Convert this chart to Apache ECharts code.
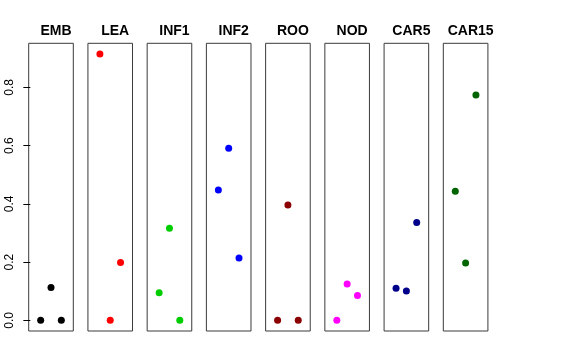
<!DOCTYPE html>
<html>
<head>
<meta charset="utf-8">
<script src="https://cdn.jsdelivr.net/npm/echarts@6/dist/echarts.min.js"></script>
<style>html,body{margin:0;padding:0;background:#fff;}#c{width:576px;height:360px;}</style>
</head>
<body>
<div id="c"></div>
<script>
var panels = ["EMB", "LEA", "INF1", "INF2", "ROO", "NOD", "CAR5", "CAR15"];
var colors = ["#000000", "#FF0000", "#00CD00", "#0000FF", "#8B0000", "#FF00FF", "#00008B", "#006400"];
var xPos = [1, 2, 3];
var EMB = [0, 0.113, 0];
var LEA = [0.915, 0, 0.199];
var INF1 = [0.095, 0.316, 0];
var INF2 = [0.448, 0.591, 0.214];
var ROO = [0, 0.396, 0];
var NOD = [0, 0.125, 0.085];
var CAR5 = [0.110, 0.101, 0.336];
var CAR15 = [0.443, 0.197, 0.774];
var yTicks = [0, 0.2, 0.4, 0.6, 0.8];
var values = [EMB, LEA, INF1, INF2, ROO, NOD, CAR5, CAR15];

var chart = echarts.init(document.getElementById('c'), null, {renderer: 'canvas'});
var gLeft0 = 28.7, gStep = 59.23, gW = 44.6, gTop = 43.3, gH = 287.7;
var grids = [], xAxes = [], yAxes = [], series = [], titles = [];
panels.forEach(function (name, i) {
  var l = gLeft0 + i * gStep;
  grids.push({left: l, top: gTop, width: gW, height: gH, show: true, borderColor: '#3a3a3a', borderWidth: 1, backgroundColor: 'transparent'});
  xAxes.push({type: 'value', gridIndex: i, min: -0.16, max: 4.16, show: false});
  yAxes.push({
    type: 'value', gridIndex: i, min: -0.0366, max: 0.9516, show: i === 0,
    splitLine: {show: false},
    axisLine: {show: false},
    axisTick: {show: true, length: 7, inside: false, lineStyle: {color: '#000'}, customValues: yTicks},
    axisLabel: {show: true, rotate: 90, margin: 13, fontSize: 12, color: '#000', fontFamily: 'Liberation Sans',
      customValues: yTicks, formatter: function (v) { return v.toFixed(1); }}
  });
  series.push({
    type: 'scatter', xAxisIndex: i, yAxisIndex: i, symbolSize: 7,
    itemStyle: {color: colors[i], opacity: 1},
    data: xPos.map(function (x, k) { return [x, values[i][k]]; })
  });
  titles.push({text: name, left: l + gW / 2, top: 19, textAlign: 'center',
    textStyle: {fontSize: 14, fontWeight: 'bold', color: '#000', fontFamily: 'Liberation Sans'}});
});
chart.setOption({
  animation: false,
  title: titles,
  grid: grids,
  xAxis: xAxes,
  yAxis: yAxes,
  series: series
});
</script>
</body>
</html>
